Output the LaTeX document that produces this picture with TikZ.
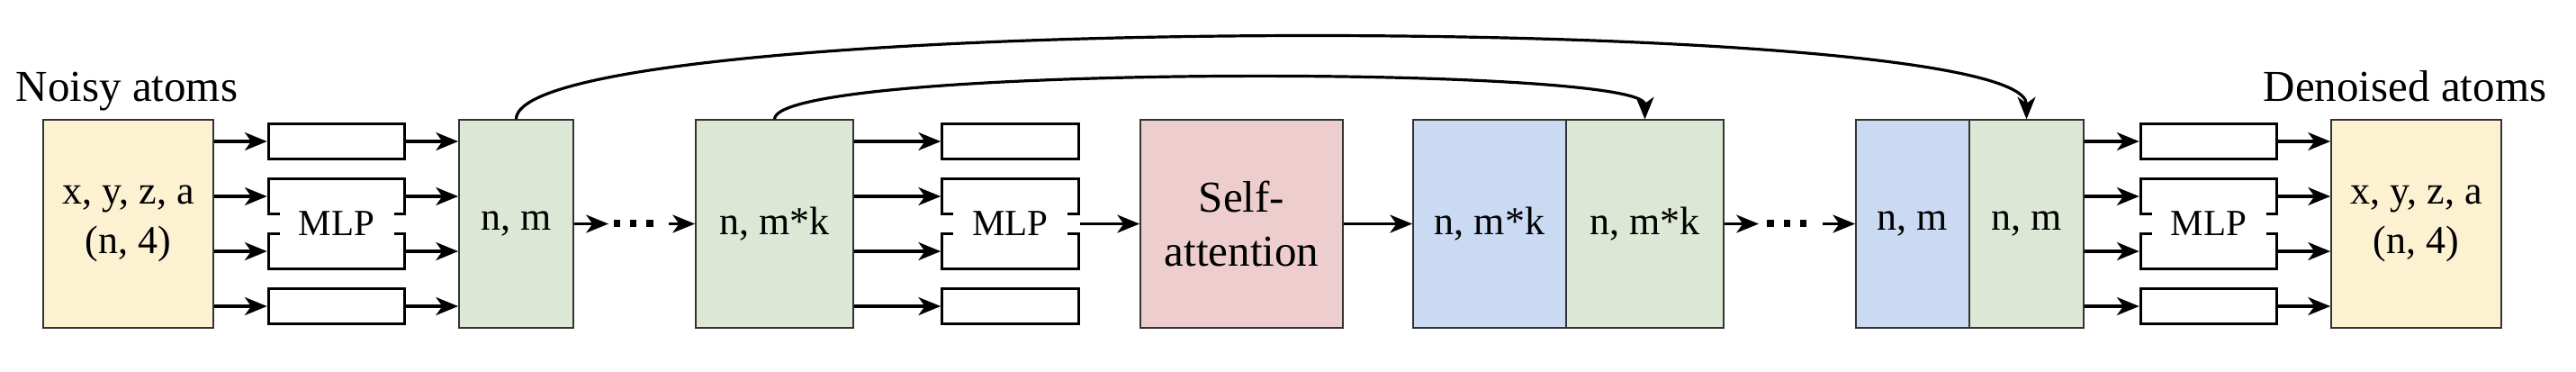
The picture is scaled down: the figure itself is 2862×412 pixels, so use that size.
\documentclass[tikz,border=0pt]{standalone}
\usepackage{fontspec}
\setmainfont{Liberation Serif}
\usetikzlibrary{arrows.meta}
\definecolor{cyellow}{HTML}{FCF1D1}
\definecolor{cgreen}{HTML}{DCE8D5}
\definecolor{cpink}{HTML}{EDCDCD}
\definecolor{cblue}{HTML}{CADAF2}
\begin{document}
\begin{tikzpicture}[x=0.25pt,y=-0.25pt,
  big/.style={draw=black!80, line width=0.45pt, inner sep=0pt, minimum height=57.6pt, align=center, font=\fontsize{11}{13.75}\selectfont},
  sbox/.style={draw=black, line width=0.75pt, inner sep=0pt, minimum width=37.9pt, minimum height=9.9pt},
  arr/.style={line width=0.8pt, -{Stealth[length=6.2pt,width=5pt,inset=1.8pt]}},
  mlp/.style={fill=white, inner sep=0pt, minimum width=31.75pt, font=\fontsize{10.25}{12}\selectfont},
  dotsq/.style={fill=black, inner sep=0pt, minimum size=1.8pt},
  title/.style={font=\fontsize{12.25}{14}\selectfont, inner sep=0pt}]
\useasboundingbox (0,0) rectangle (2862,412);

% titles
\node[title, anchor=base west] (tin) at (17,112) {Noisy atoms};
\node[title, anchor=base east] (tout) at (2830,112) {Denoised atoms};

% big boxes
\node[big, fill=cyellow, minimum width=47.25pt] (y1) at (142.5,248.5) {x, y, z, a\\(n, 4)};
\node[big, fill=cgreen, minimum width=31.75pt] (g1) at (573.5,248.5) {n, m};
\node[big, fill=cgreen, minimum width=43.75pt] (g2) at (860.5,248.5) {n, m*k};
\node[big, fill=cpink, minimum width=56.25pt, font=\fontsize{12.25}{15}\selectfont] (sa) at (1379.5,248.5) {Self-\\attention};
\node[big, fill=cblue, minimum width=42.5pt] (b2) at (1655,248.5) {n, m*k};
\node[big, fill=cgreen, minimum width=43.75pt] (g3) at (1827.5,248.5) {n, m*k};
\node[big, fill=cblue, minimum width=31.5pt] (b3) at (2125,248.5) {n, m};
\node[big, fill=cgreen, minimum width=31.75pt] (g4) at (2251.5,248.5) {n, m};
\node[big, fill=cyellow, minimum width=47.25pt] (y2) at (2684.5,248.5) {x, y, z, a\\(n, 4)};

% small boxes
\foreach \i/\yy in {1/157,2/218,3/279,4/340}{
  \node[sbox] (a\i) at (374,\yy) {};
  \node[sbox] (c\i) at (1122.5,\yy) {};
  \node[sbox] (e\i) at (2454,\yy) {};
}
\node[mlp] (ma) at (374,248.5) {MLP};
\node[mlp] (mc) at (1122.5,248.5) {MLP};
\node[mlp] (me) at (2454,248.5) {MLP};

% arrows of the MLP groups
\foreach \i in {1,...,4}{
  \draw[arr] (y1.east |- a\i.west) -- (a\i.west);
  \draw[arr] (a\i.east) -- (g1.west |- a\i.east);
  \draw[arr] (g2.east |- c\i.west) -- (c\i.west);
  \draw[arr] (g4.east |- e\i.west) -- (e\i.west);
  \draw[arr] (e\i.east) -- (y2.west |- e\i.east);
}
\draw[arr] (mc.east -| c2.east) -- (sa.west |- mc.east);
\draw[arr] (sa.east) -- (b2.west);

% dots
\node[dotsq] (d1) at (685.5,248) {};
\node[dotsq] (d2) at (703.5,248) {};
\node[dotsq] (d3) at (722,248) {};
\node[dotsq] (d4) at (1967,248) {};
\node[dotsq] (d5) at (1985.5,248) {};
\node[dotsq] (d6) at (2003.5,248) {};
\coordinate (p1) at (676,248.5);
\coordinate (p2) at (743,248.5);
\coordinate (p3) at (1954,248.5);
\coordinate (p4) at (2025,248.5);
\draw[arr] (g1.east) -- (p1);
\draw[arr] (p2) -- (g2.west);
\draw[arr] (g3.east) -- (p3);
\draw[arr] (p4) -- (b3.west);

% skip connections
\draw[arr] (g1.north) .. controls +(0,-121) and +(0,-121) .. (g4.north);
\draw[arr] (g2.north) .. controls +(0,-61) and +(0,-61) .. (g3.north);
\end{tikzpicture}
\end{document}
